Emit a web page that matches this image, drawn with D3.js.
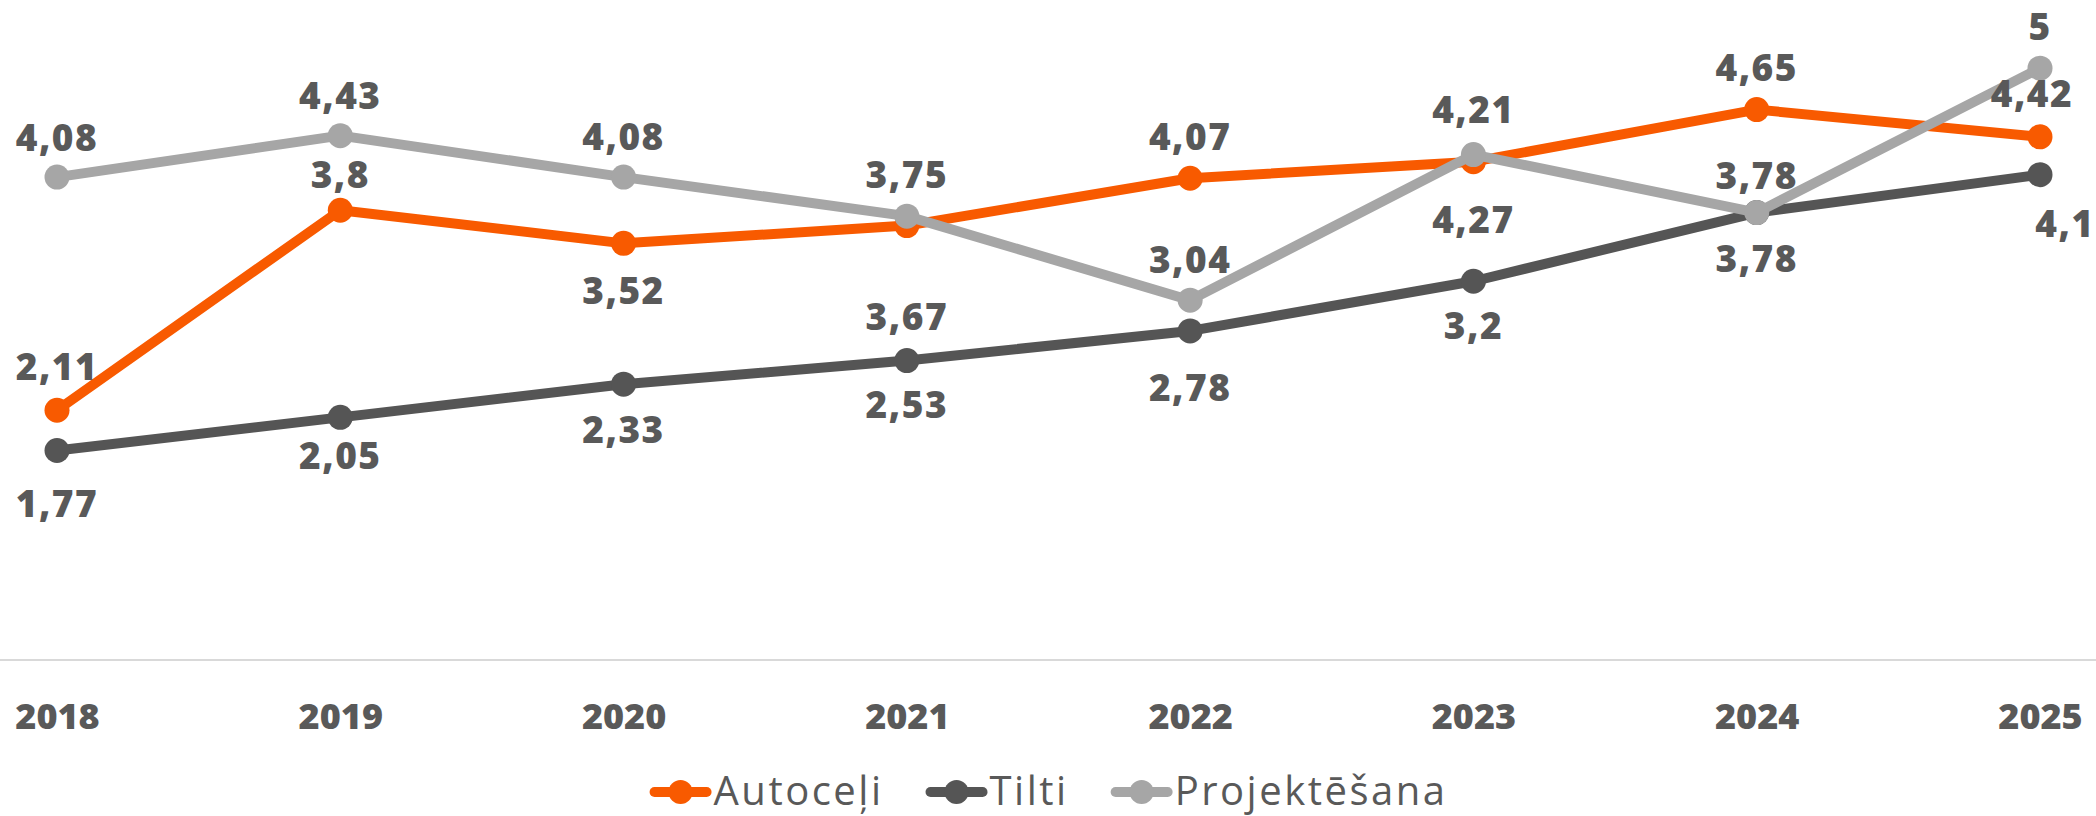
<!DOCTYPE html>
<html>
<head>
<meta charset="utf-8">
<script src="https://cdn.jsdelivr.net/npm/d3@7"></script>
<style>
  html, body { margin: 0; padding: 0; background: #fff; }
  svg { display: block; }
</style>
</head>
<body>
<script>
// chart data
var years = ['2018', '2019', '2020', '2021', '2022', '2023', '2024', '2025'];
var seriesNames = ['Autoceļi', 'Tilti', 'Projektēšana'];
var autoceli = [2.11, 3.8, 3.52, 3.67, 4.07, 4.21, 4.65, 4.42];
var tilti = [1.77, 2.05, 2.33, 2.53, 2.78, 3.2, 3.78, 4.1];
var projektesana = [4.08, 4.43, 4.08, 3.75, 3.04, 4.27, 3.78, 5];

// label placement (vertical shift of label centre from the point, px)
var labelDy = [
    [-44, -36, 47, 91, -42, -52, -42, -43],
    [53, 38, 45, 44, 57, 44, 46, 49],
    [-39, -40, -40, -41, -40, 65, -37, -42]
];
var labelDx = [
    [0, 0, 0, 0, 0, 0, 0, -8],
    [0, 0, 0, 0, 0, 0, 0, 25],
    [0, 0, 0, 0, 0, 0, 0, 0]
];

var colors = ['#F85A00', '#555555', '#A6A6A6'];
var textColor = '#595959';

var svgWidth = 2096, svgHeight = 816;
var baseY = 660;

var series = [autoceli, tilti, projektesana].map((values, i) => {
    return {
        name: seriesNames[i],
        color: colors[i],
        values: values.map((v, j) => { return { year: years[j], value: v, dy: labelDy[i][j], dx: labelDx[i][j] }; })
    };
});

// scales
var xScale = d3.scalePoint()
    .domain(years)
    .range([57, 2040]);

var yScale = d3.scaleLinear()
    .domain([0, 5.5])
    .range([baseY, 9]);

var svg = d3.select('body')
    .append('svg')
    .attr('width', svgWidth)
    .attr('height', svgHeight)
    .style('font-family', '"Open Sans", sans-serif');

// x axis
var xAxis = d3.axisBottom(xScale).tickSize(0).tickPadding(43);

var gx = svg.append('g')
    .attr('class', 'x axis')
    .attr('transform', `translate(0, ${ baseY })`)
    .call(xAxis);

gx.select('.domain').remove();
gx.selectAll('text')
    .attr('fill', textColor)
    .style('font-size', '36px')
    .style('font-weight', 800)
    .style('font-family', '"Open Sans", sans-serif');

svg.append('line')
    .attr('x1', 0)
    .attr('x2', svgWidth)
    .attr('y1', baseY)
    .attr('y2', baseY)
    .attr('stroke', '#D9D9D9')
    .attr('stroke-width', 2);

// lines and markers
var line = d3.line()
    .x(d => xScale(d.year))
    .y(d => yScale(d.value));

var seriesG = svg.selectAll('.series')
    .data(series)
    .enter()
    .append('g')
    .attr('class', 'series');

seriesG.append('path')
    .attr('d', d => line(d.values))
    .attr('fill', 'none')
    .attr('stroke', d => d.color)
    .attr('stroke-width', 10)
    .attr('stroke-linejoin', 'round');

seriesG.selectAll('circle')
    .data(d => d.values.map(v => Object.assign({ color: d.color }, v)))
    .enter()
    .append('circle')
    .attr('cx', d => xScale(d.year))
    .attr('cy', d => yScale(d.value))
    .attr('r', 12.5)
    .attr('fill', d => d.color);

// data labels
var labelG = svg.append('g').attr('class', 'labels');

series.forEach(s => {
    labelG.selectAll(null)
        .data(s.values)
        .enter()
        .append('text')
        .attr('x', d => xScale(d.year) + d.dx)
        .attr('y', d => yScale(d.value) + d.dy)
        .attr('dy', '0.36em')
        .attr('text-anchor', 'middle')
        .attr('fill', textColor)
        .style('font-size', '37px')
        .style('font-weight', 800)
        .style('letter-spacing', '1.5px')
        .text(d => String(d.value).replace('.', ','));
});

// legend
var legend = svg.append('g').attr('class', 'legend');
var legendY = 792;
var cursor = 0;

series.forEach((s, i) => {
    var item = legend.append('g').attr('transform', `translate(${ cursor }, 0)`);
    item.append('line')
        .attr('x1', 5)
        .attr('x2', 57)
        .attr('y1', legendY)
        .attr('y2', legendY)
        .attr('stroke', s.color)
        .attr('stroke-width', 10)
        .attr('stroke-linecap', 'round');
    item.append('circle')
        .attr('cx', 31)
        .attr('cy', legendY)
        .attr('r', 12)
        .attr('fill', s.color);
    var t = item.append('text')
        .attr('x', 64)
        .attr('y', legendY + 13)
        .attr('fill', textColor)
        .style('font-size', '40px')
        .style('letter-spacing', '2.5px')
        .text(s.name);
    cursor += 64 + t.node().getComputedTextLength() + 42;
});

var legendWidth = cursor - 42;
legend.attr('transform', `translate(${ (xScale('2018') + xScale('2025')) / 2 - legendWidth / 2 }, 0)`);
</script>
</body>
</html>
